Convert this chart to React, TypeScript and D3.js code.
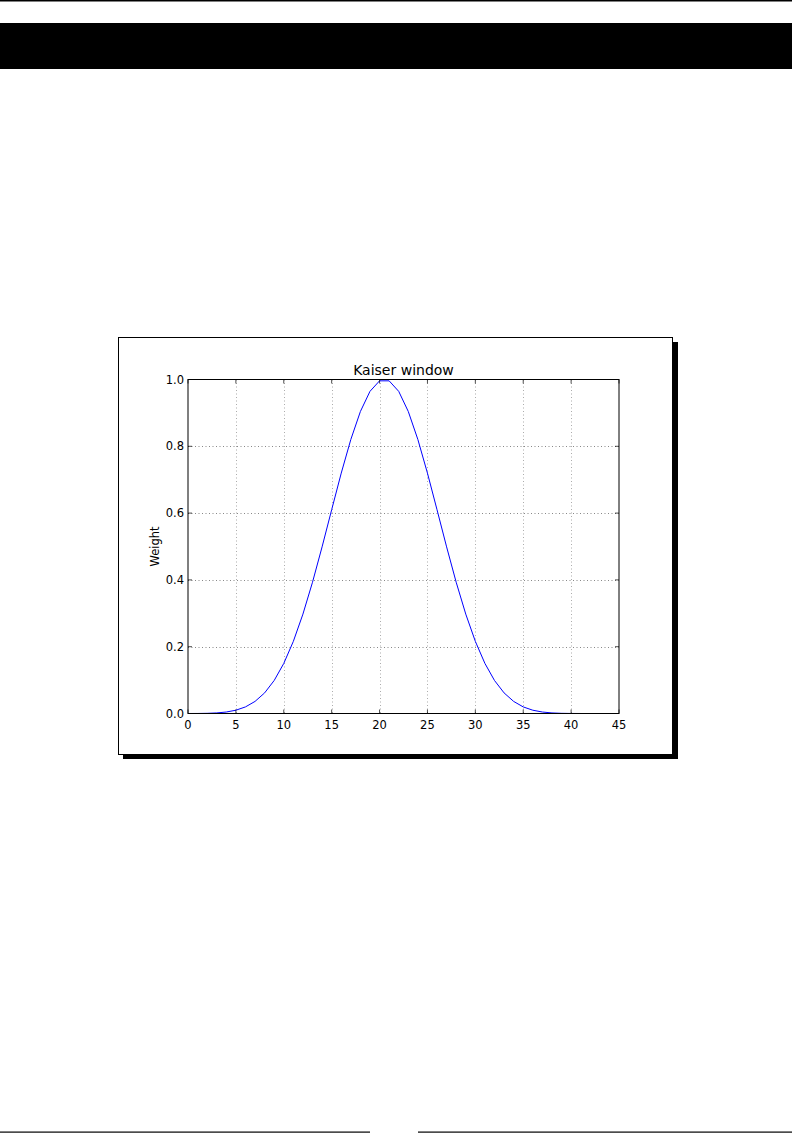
import React from "react";
import * as d3 from "d3";

// Kaiser window weights (42 samples, index 0..41)
const halfWeights = [
  0.0000077, 0.000115, 0.000535, 0.00171, 0.00441, 0.00985, 0.0197, 0.0362,
  0.0617, 0.0989, 0.1499, 0.216, 0.2976, 0.393, 0.4989, 0.61, 0.7197, 0.8204,
  0.9042, 0.9645, 0.996,
];
const weights = [...halfWeights, ...halfWeights.slice().reverse()];
const xTicks = [0, 5, 10, 15, 20, 25, 30, 35, 40, 45];
const yTicks = [0.0, 0.2, 0.4, 0.6, 0.8, 1.0];
const title = "Kaiser window";
const yLabel = "Weight";

export default function App() {
  const W = 792;
  const H = 1142;
  const left = 188;
  const right = 619;
  const top = 379.5;
  const bottom = 713.5;
  const x = d3.scaleLinear().domain([0, 45]).range([left, right]);
  const y = d3.scaleLinear().domain([0, 1]).range([bottom, top]);
  const line = d3
    .line<number>()
    .x((_, i) => x(i))
    .y((d) => y(d));
  const font = "'DejaVu Sans', sans-serif";
  return (
    <svg
      width={W}
      height={H}
      style={{ position: "absolute", left: 0, top: 0, background: "#fff" }}
    >
      {/* page decorations */}
      <rect x={0} y={0} width={W} height={1.5} fill="#000" />
      <rect x={0} y={23} width={W} height={46} fill="#000" />
      <rect x={0} y={1131.5} width={370} height={1.2} fill="#000" />
      <rect x={418} y={1131.5} width={374} height={1.2} fill="#000" />

      {/* figure frame with shadow */}
      <rect x={123} y={342} width={555} height={417} fill="#000" />
      <rect
        x={118.5}
        y={337.5}
        width={554}
        height={417}
        fill="#fff"
        stroke="#000"
        strokeWidth={1}
      />

      {/* grid */}
      {xTicks.slice(1, -1).map((t) => (
        <line
          key={"gx" + t}
          x1={Math.round(x(t)) + 0.5}
          x2={Math.round(x(t)) + 0.5}
          y1={top}
          y2={bottom}
          stroke="#888"
          strokeWidth={0.7}
          strokeDasharray="1,2.5"
        />
      ))}
      {yTicks.slice(1, -1).map((t) => (
        <line
          key={"gy" + t}
          x1={left}
          x2={right}
          y1={Math.round(y(t)) + 0.5}
          y2={Math.round(y(t)) + 0.5}
          stroke="#555"
          strokeWidth={0.7}
          strokeDasharray="1,2.5"
        />
      ))}

      {/* curve */}
      <path
        d={line(weights) || ""}
        fill="none"
        stroke="#0000ff"
        strokeWidth={1}
      />

      {/* ticks */}
      {xTicks.map((t) => (
        <g key={"tx" + t}>
          <line x1={x(t)} x2={x(t)} y1={bottom} y2={bottom - 4} stroke="#000" strokeWidth={0.7} />
          <line x1={x(t)} x2={x(t)} y1={top} y2={top + 4} stroke="#000" strokeWidth={0.7} />
          <text
            x={x(t)}
            y={bottom + 15}
            textAnchor="middle"
            fontFamily={font}
            fontSize={11.5}
            fill="#000"
          >
            {t}
          </text>
        </g>
      ))}
      {yTicks.map((t) => (
        <g key={"ty" + t}>
          <line x1={left} x2={left + 4} y1={y(t)} y2={y(t)} stroke="#000" strokeWidth={0.7} />
          <line x1={right} x2={right - 4} y1={y(t)} y2={y(t)} stroke="#000" strokeWidth={0.7} />
          <text
            x={left - 4}
            y={y(t)}
            dy="0.35em"
            textAnchor="end"
            fontFamily={font}
            fontSize={11.5}
            fill="#000"
          >
            {t.toFixed(1)}
          </text>
        </g>
      ))}

      {/* axes frame */}
      <rect
        x={left}
        y={top}
        width={right - left}
        height={bottom - top}
        fill="none"
        stroke="#000"
        strokeWidth={1}
      />

      {/* title and label */}
      <text
        x={(left + right) / 2}
        y={top - 5}
        textAnchor="middle"
        fontFamily={font}
        fontSize={14}
        fill="#000"
      >
        {title}
      </text>
      <text
        transform={`translate(${159},${(top + bottom) / 2}) rotate(-90)`}
        textAnchor="middle"
        fontFamily={font}
        fontSize={11.5}
        fill="#000"
      >
        {yLabel}
      </text>
    </svg>
  );
}
